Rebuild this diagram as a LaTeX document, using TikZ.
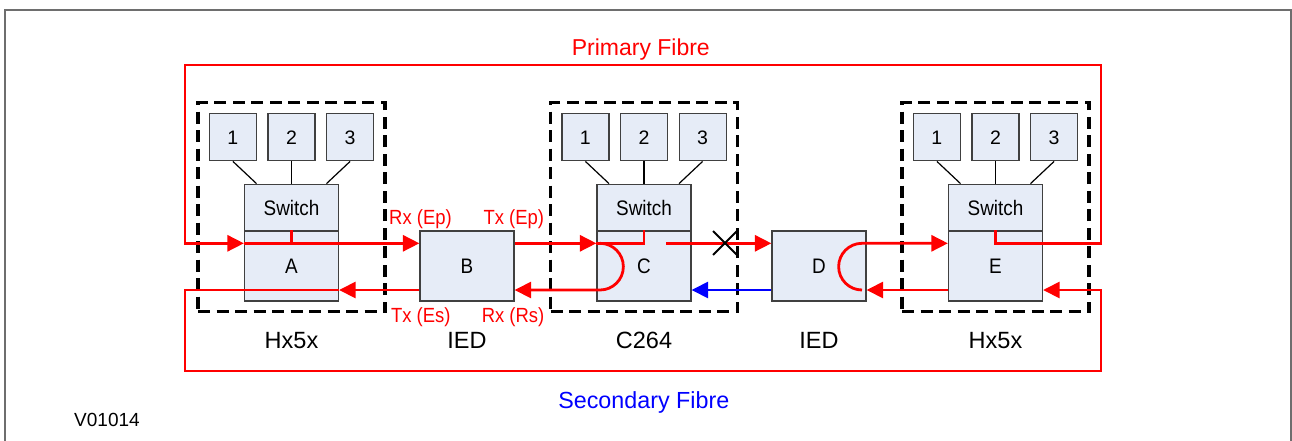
\documentclass[tikz,border=0pt]{standalone}
\usepackage{fontspec}
\setmainfont{Liberation Sans}
\newfontfamily\narrowfont{Liberation Sans}[FakeStretch=0.9]
\usetikzlibrary{arrows.meta,calc}
\definecolor{boxfill}{RGB}{230,236,247}
\definecolor{boxline}{RGB}{64,64,64}
\definecolor{framegray}{RGB}{110,110,110}
\begin{document}
\begin{tikzpicture}[x=1pt,y=-1pt,
  box/.style={draw=boxline, line width=1.2pt, fill=boxfill, inner sep=0pt, font=\fontsize{19.5}{22}\selectfont},
  numbox/.style={box, minimum width=47pt, minimum height=47pt},
  swbox/.style={box, minimum width=94pt, minimum height=47pt, font=\narrowfont\fontsize{21}{23}\selectfont},
  unitbox/.style={box, minimum width=94pt, minimum height=70pt, font=\narrowfont\fontsize{21}{23}\selectfont},
  dashbox/.style={draw=black, line width=3.2pt, dash pattern=on 12pt off 6.5pt, minimum width=187pt, minimum height=209pt, inner sep=0pt},
  fib/.style={draw=red, line width=2.8pt},
  bfib/.style={draw=blue, line width=2.8pt},
  fibarrow/.style={-{Triangle[length=16.5pt,width=16pt]}},
  wire/.style={draw=black, line width=1.2pt},
  lab/.style={text=red, font=\narrowfont\fontsize{20.5}{22}\selectfont, anchor=base, inner sep=0pt},
  title/.style={font=\fontsize{23.5}{26}\selectfont, anchor=base, inner sep=0pt}
]
\useasboundingbox (0,0) rectangle (1292,440);
\draw[framegray, line width=2pt] (5,450) -- (5,9.5) -- (1291,9.5) -- (1291,450);

\coordinate (PY) at (0,243.3);
\coordinate (SY) at (0,290);
\coordinate (PTR) at (1101,65);
\coordinate (PTL) at (185,65);
\coordinate (SBR) at (1101,371);
\coordinate (SBL) at (185,371);

\foreach \cx/\t in {291.5/A,644/C,995.5/E}{
  \node[dashbox] (M\t) at (\cx,207.2) {};
  \node[numbox] (N1\t) at (\cx-58.6,137.3) {1};
  \node[numbox] (N2\t) at (\cx,137.3) {2};
  \node[numbox] (N3\t) at (\cx+58.6,137.3) {3};
  \node[swbox] (S\t) at (\cx,207.7) {Switch};
  \node[unitbox] (L\t) at (\cx,266) {\t};
  \draw[wire] (N1\t.south) -- ($(S\t.north)+(-35,0)$);
  \draw[wire] (N2\t.south) -- (S\t.north);
  \draw[wire] (N3\t.south) -- ($(S\t.north)+(35,0)$);
}
\node[unitbox] (B) at (467,266) {B};
\node[unitbox] (D) at (819,266) {D};

% primary fibre
\draw[fib,fibarrow] (LE.north) -- (LE.north |- PY) -- (PTR |- PY) -- (PTR) -- (PTL) -- (PTL |- PY) -- (LA.west |- PY);
\draw[fib,fibarrow] (LA.west |- PY) -- (B.west |- PY);
\draw[fib] (LA.north) -- (LA.north |- PY);
\draw[fib,fibarrow] (B.east |- PY) -- (LC.west |- PY);
\draw[fib] (LC.west |- PY) -- (LC.north |- PY) -- (LC.north);
\coordinate (CA) at (600,243.3);
\draw[fib,fibarrow] (CA) arc[start angle=-90, end angle=90, radius=23.35] -- (B.east |- SY);
\coordinate (CX) at (666,243.3);
\draw[fib,fibarrow] (CX) -- (D.west |- PY);
\coordinate (XM) at (725,243);
\draw[black, line width=1.8pt] ($(XM)+(-12,-12)$) -- ($(XM)+(12,12)$) ($(XM)+(-12,12)$) -- ($(XM)+(12,-12)$);
\coordinate (DA) at (862,290);
\draw[fib,fibarrow] (DA) arc[start angle=90, end angle=270, radius=23.35] -- (LE.west |- PY);
\draw[fib,fibarrow] (LE.west |- SY) -- (D.east |- SY);

% secondary fibre
\draw[bfib,fibarrow] (D.west |- SY) -- (LC.east |- SY);
\draw[fib,fibarrow] (B.west |- SY) -- (LA.east |- SY);
\draw[fib,fibarrow] (LA.east |- SY) -- (SBL |- SY) -- (SBL) -- (SBR) -- (SBR |- SY) -- (LE.east |- SY);

% labels
\node[lab] (rxep) at (420.5,224) {Rx (Ep)};
\node[lab] (txep) at (513.8,224) {Tx (Ep)};
\node[lab] (txes) at (420.8,322) {Tx (Es)};
\node[lab] (rxrs) at (513,322) {Rx (Rs)};

\node[title] (t1) at (291.5,348.5) {Hx5x};
\node[title] (t2) at (467,348.5) {IED};
\node[title] (t3) at (644,348.5) {C264};
\node[title] (t4) at (819,348.5) {IED};
\node[title] (t5) at (995.5,348.5) {Hx5x};

\node[title, text=red, font=\fontsize{23}{26}\selectfont] (pf) at (640.8,55) {Primary Fibre};
\node[title, text=blue, font=\fontsize{23.3}{26}\selectfont] (sf) at (643.8,408.3) {Secondary Fibre};
\node[title, font=\fontsize{19}{22}\selectfont] (ver) at (107,426) {V01014};
\end{tikzpicture}
\end{document}
